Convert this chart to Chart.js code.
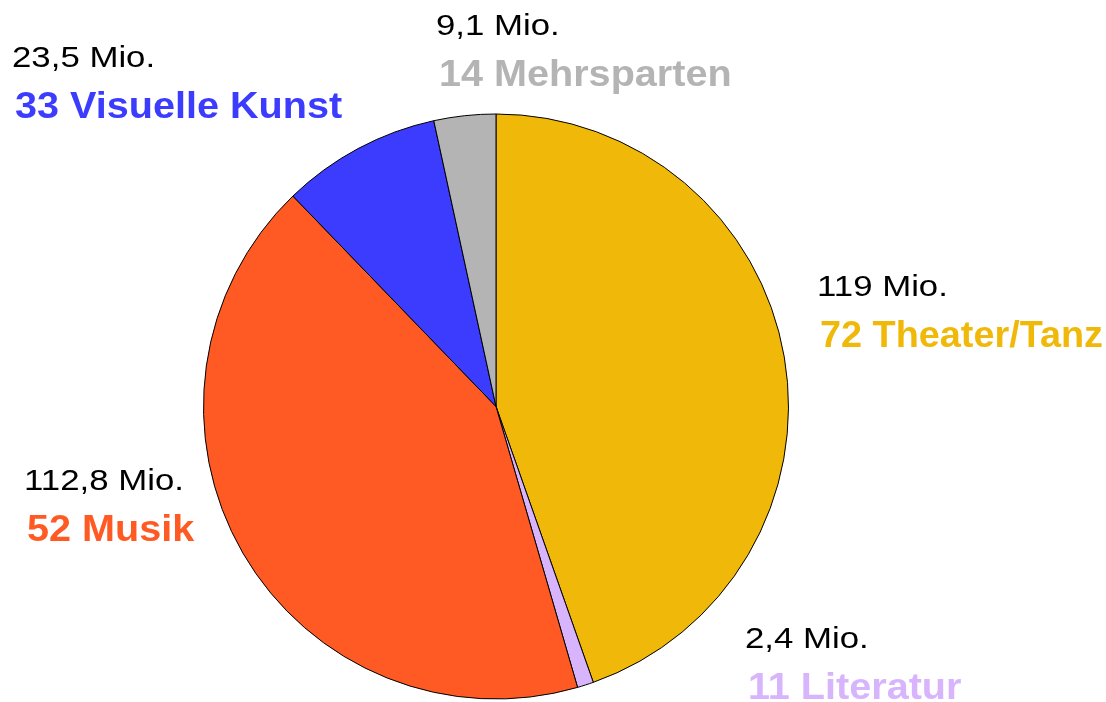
<!DOCTYPE html>
<html>
<head>
<meta charset="utf-8">
<script src="https://cdn.jsdelivr.net/npm/chart.js@4"></script>
<style>
    html, body { margin: 0; padding: 0; background: #fff; }
    #wrap { width: 1106px; height: 702px; position: relative; }
</style>
</head>
<body>
<div id="wrap"><canvas id="pieChart" width="1106" height="702"></canvas></div>
<script>
// Sparten, im Uhrzeigersinn ab 12 Uhr
const categories = ['Theater/Tanz', 'Literatur', 'Musik', 'Visuelle Kunst', 'Mehrsparten'];
const amounts = [119, 2.4, 112.8, 23.5, 9.1];          // Mio.
const amountLabels = ['119 Mio.', '2,4 Mio.', '112,8 Mio.', '23,5 Mio.', '9,1 Mio.'];
const counts = [72, 11, 52, 33, 14];
const sliceColors = ['#f0b90a', '#d8b4fc', '#ff5a23', '#3c3cff', '#b4b4b4'];

// where each label block sits (left x, baseline of first line)
const labelAnchors = [[817, 296], [745, 648], [24, 490], [12, 67], [436, 35]];

// draws the two-line labels beside the pie
const sliceLabels = {
    id: 'sliceLabels',
    afterDraw(chart, args, opts) {
        const ctx = chart.ctx;
        const w = chart.width;
        ctx.save();
        ctx.textBaseline = 'alphabetic';
        ctx.textAlign = 'left';
        opts.anchors.forEach((a, i) => {
            const x = a[0], y = a[1];
            ctx.save();
            ctx.translate(x, y);
            ctx.scale(1.2, 1);
            ctx.font = '29px "Liberation Sans", Arial, sans-serif';
            ctx.fillStyle = '#000';
            ctx.fillText(amountLabels[i], 0, 0);
            ctx.restore();

            // keep the bold line inside the canvas
            const sx = 1.07;
            ctx.save();
            ctx.translate(x + 3, y + 51);
            ctx.scale(sx, 1);
            ctx.font = 'bold 37px "Liberation Sans", Arial, sans-serif';
            ctx.fillStyle = sliceColors[i];
            ctx.fillText(counts[i] + ' ' + categories[i], 0, 0, (w - x - 6) / sx);
            ctx.restore();
        });
        ctx.restore();
    }
};

new Chart(document.getElementById('pieChart'), {
    type: 'pie',
    data: {
        labels: categories,
        datasets: [{
            data: amounts,
            backgroundColor: sliceColors,
            borderColor: '#000',
            borderWidth: 1
        }]
    },
    options: {
        responsive: false,
        animation: false,
        layout: { padding: { left: 203, right: 317, top: 113, bottom: 2 } },
        plugins: {
            legend: { display: false },
            tooltip: { enabled: false },
            sliceLabels: { anchors: labelAnchors }
        }
    },
    plugins: [sliceLabels]
});
</script>
</body>
</html>
